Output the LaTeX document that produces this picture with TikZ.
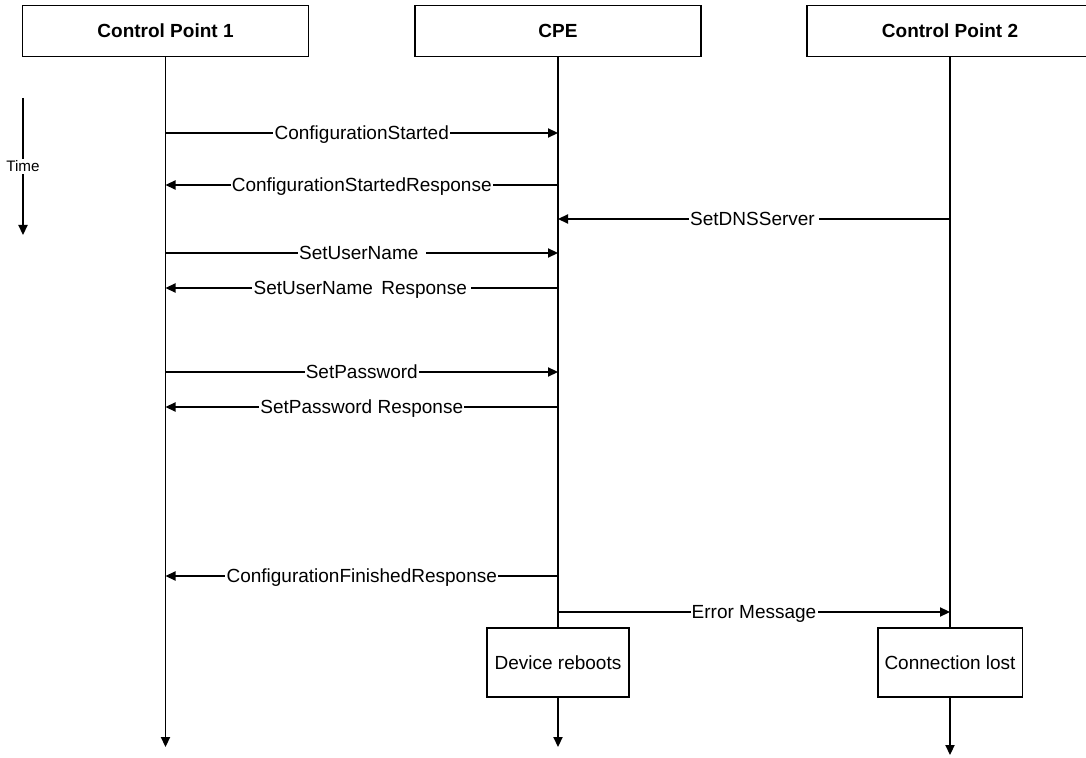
\documentclass[tikz,border=0pt]{standalone}
\usepackage{fontspec}
\setmainfont{Liberation Sans}
\usetikzlibrary{arrows.meta}

\begin{document}
\begin{tikzpicture}[x=0.5pt, y=-0.5pt, line width=0.65pt,
  >={Triangle[length=5pt,width=4.6pt]},
  every node/.style={font=\fontsize{9.5}{11}\selectfont},
  party/.style={draw, minimum width=143pt, minimum height=25.5pt,
    font=\fontsize{9.5}{11}\selectfont\bfseries},
  statebox/.style={draw, minimum width=71pt, minimum height=34.5pt},
  msg/.style={fill=white, inner xsep=0.6pt, inner ysep=1pt, text height=6.8pt, text depth=0pt}]

\useasboundingbox (0,0) rectangle (1086,758);
\clip (0,0) rectangle (1086,758);

\node[party] (cp1) at (165.5,31) {Control Point 1};
\node[party] (cpe) at (558,31)   {CPE};
\node[party] (cp2) at (950,31)   {Control Point 2};

\node[statebox] (reboot) at (558,662.5) {Device reboots};
\node[statebox] (lost)   at (950,662.5) {Connection lost};

\coordinate (cp1end) at (165.5,747);
\coordinate (cpeend) at (558,747);
\coordinate (cp2end) at (950,755);

\draw[->] (cp1.south) -- (cp1end);
\draw (cpe.south) -- (reboot.north);
\draw[->] (reboot.south) -- (cpeend);
\draw (cp2.south) -- (lost.north);
\draw[->] (lost.south) -- (cp2end);

\coordinate (t0) at (23,98);
\coordinate (t1) at (23,235);
\draw[->] (t0) -- node[fill=white, inner sep=1pt, font=\fontsize{7.6}{9}\selectfont] {Time} (t1);

\coordinate (a1) at (165.5,133); \coordinate (b1) at (558,133);
\coordinate (a2) at (165.5,185); \coordinate (b2) at (558,185);
\coordinate (b3) at (558,219);   \coordinate (c3) at (950,219);
\coordinate (a4) at (165.5,253); \coordinate (b4) at (558,253);
\coordinate (a5) at (165.5,288); \coordinate (b5) at (558,288);
\coordinate (a6) at (165.5,372); \coordinate (b6) at (558,372);
\coordinate (a7) at (165.5,407); \coordinate (b7) at (558,407);
\coordinate (a8) at (165.5,576); \coordinate (b8) at (558,576);
\coordinate (b9) at (558,612);   \coordinate (c9) at (950,612);

\draw[->] (a1) -- node[msg] {ConfigurationStarted} (b1);
\draw[<-] (a2) -- node[msg] {ConfigurationStartedResponse} (b2);
\draw[<-] (b3) -- node[msg] {SetDNSServer\kern1.5pt\relax} (c3);
\draw[->] (a4) -- node[msg] {SetUserName\kern3pt\relax} (b4);
\draw[<-] (a5) -- node[msg] {SetUserName\, Response\kern1.5pt\relax} (b5);
\draw[->] (a6) -- node[msg] {SetPassword} (b6);
\draw[<-] (a7) -- node[msg] {SetPassword Response} (b7);
\draw[<-] (a8) -- node[msg] {ConfigurationFinishedResponse} (b8);
\draw[->] (b9) -- node[msg] {Error Message} (c9);

\end{tikzpicture}
\end{document}
